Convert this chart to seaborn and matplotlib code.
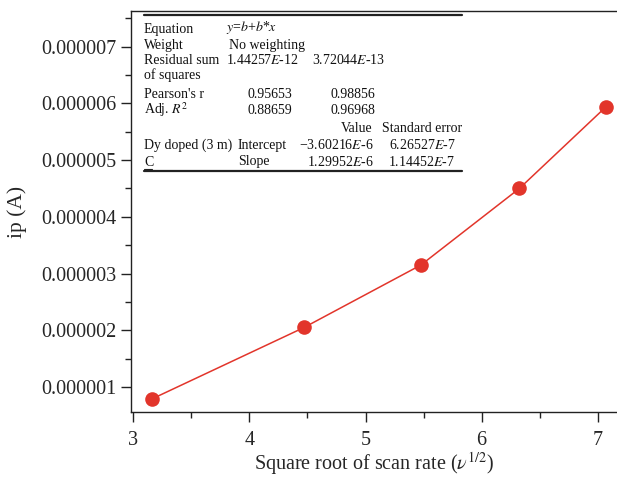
import numpy as np
import pandas as pd
import matplotlib
matplotlib.use("Agg")
import matplotlib.pyplot as plt
import seaborn as sns
from matplotlib.ticker import FormatStrFormatter, MultipleLocator
from matplotlib.lines import Line2D

# data
sqrt_scan_rate = [3.162, 4.472, 5.477, 6.325, 7.071]
peak_current = [0.79e-6, 2.05e-6, 3.15e-6, 4.50e-6, 5.94e-6]

sns.set_style("ticks")
plt.rcParams['font.family'] = ['Liberation Serif', 'DejaVu Serif']
plt.rcParams['mathtext.fontset'] = 'stix'

W, H = 617, 479
fig = plt.figure(figsize=(W / 100, H / 100), dpi=100)
ax = fig.add_axes([131 / W, 1 - 412 / H, (W - 131) / W, (412 - 11) / H])

df = pd.DataFrame({"x": sqrt_scan_rate, "y": peak_current})
sns.lineplot(data=df, x="x", y="y", ax=ax, color="#e2352b", linewidth=1.1,
             marker="o", markersize=10.5, markeredgewidth=0)

ax.set_xlim(2.98, 7.166)
ax.set_ylim(0.558e-6, 7.63e-6)
ax.xaxis.set_major_locator(MultipleLocator(1))
ax.xaxis.set_minor_locator(MultipleLocator(0.5))
ax.yaxis.set_major_locator(MultipleLocator(1e-6))
ax.yaxis.set_minor_locator(MultipleLocator(0.5e-6))
ax.yaxis.set_major_formatter(FormatStrFormatter('%.6f'))
ax.yaxis.get_offset_text().set_visible(False)
ax.tick_params(which='major', length=7, width=1, labelsize=14.5, direction='out', color='#222222')
ax.tick_params(axis='x', which='major', pad=7)
ax.tick_params(which='minor', length=4, width=1, direction='out', color='#222222')
ax.spines['right'].set_visible(False)
for s in ['left', 'bottom', 'top']:
    ax.spines[s].set_linewidth(1.0)
    ax.spines[s].set_color('#222222')

ax.set_xlabel(r"Square root of scan rate ($\nu^{1/2}$)", fontsize=14.5, labelpad=0)
ax.set_ylabel("ip (A)", fontsize=15.5, labelpad=10)


def px(x, y):
    return x / W, 1 - y / H


fs = 10
def t(x, y, s, ha='left', **kw):
    fig.text(*px(x, y), s, ha=ha, va='center', fontsize=fs, color='#111111', **kw)


t(144, 29, "Equation")
t(226, 28, r"$y$=$b$+$b$*$x$")
t(144, 45, "Weight")
t(229, 45, "No weighting")
t(144, 60, "Residual sum")
t(144, 75, "of squares")
t(226, 60, "1.44257$E$-12")
t(312, 60, "3.72044$E$-13")
t(144, 94, "Pearson's r")
t(292, 94, "0.95653", ha='right')
t(375, 94, "0.98856", ha='right')
t(144, 110, "Adj. $R^2$")
t(292, 110, "0.88659", ha='right')
t(375, 110, "0.96968", ha='right')
t(357, 128, "Value", ha='center')
t(462, 128, "Standard error", ha='right')
t(144, 145, "Dy doped (3 m)")
t(238, 145, "Intercept")
t(374, 145, "\u22123.60216$E$-6", ha='right')
t(456, 145, "6.26527$E$-7", ha='right')
t(144, 162, "C")
t(238, 162, "Slope")
t(374, 162, "1.29952$E$-6", ha='right')
t(455, 162, "1.14452$E$-7", ha='right')

# table rules
for y, lw in [(15, 1.6), (171, 1.6)]:
    x0, y0 = px(144, y)
    x1, _ = px(462, y)
    fig.add_artist(Line2D([x0, x1], [y0, y0], color='#222222', linewidth=lw))
# underline under C
x0, y0 = px(144, 169)
x1, _ = px(152, 169)
fig.add_artist(Line2D([x0, x1], [y0, y0], color='#222222', linewidth=0.8))

fig.savefig("out.png", dpi=100)
